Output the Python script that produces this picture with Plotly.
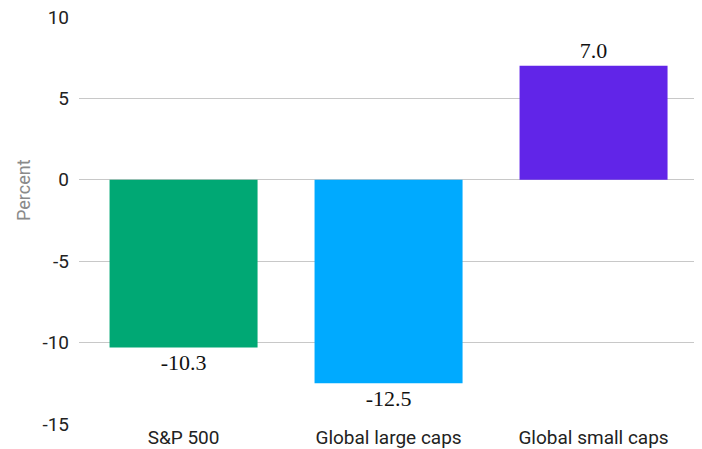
import plotly.graph_objects as go

categories = ["S&P 500", "Global large caps", "Global small caps"]
values = [-10.3, -12.5, 7.0]
colors = ["#00A874", "#00AAFF", "#6125E8"]
y_ticks = [10, 5, 0, -5, -10, -15]
y_title = "Percent"

fig = go.Figure(go.Bar(
    x=categories, y=values,
    marker=dict(color=colors, line=dict(width=0)),
    text=[f"{v:.1f}" for v in values],
    textposition="outside",
    textfont=dict(family="Liberation Serif", size=22, color="#111"),
    cliponaxis=False,
))

fig.update_layout(
    width=702, height=449,
    margin=dict(l=79, r=8, t=17, b=25),
    plot_bgcolor="white", paper_bgcolor="white",
    bargap=0.278,
    showlegend=False,
    font=dict(family="Roboto", color="#222"),
    annotations=[dict(
        text=y_title, textangle=-90, showarrow=False,
        xref="paper", yref="paper", x=0, y=0.575,
        xanchor="center", yanchor="middle", xshift=-55,
        font=dict(family="Roboto", size=18, color="#8A8A8A"),
    )],
)
fig.update_yaxes(
    range=[-15, 10], tickvals=y_ticks, ticktext=[str(t) for t in y_ticks],
    showgrid=True, gridcolor="#C8C8C8", gridwidth=1,
    zeroline=True, zerolinecolor="#C8C8C8", zerolinewidth=1,
    tickfont=dict(family="Roboto", size=19, color="#222"),
    ticklabelstandoff=9,
    automargin=False,
)
fig.update_xaxes(
    range=[-0.51, 2.49],
    showgrid=False, showline=False,
    tickfont=dict(family="Roboto", size=19, color="#222"),
    ticklabelstandoff=0,
    automargin=False,
)

fig.write_html("out.html")
